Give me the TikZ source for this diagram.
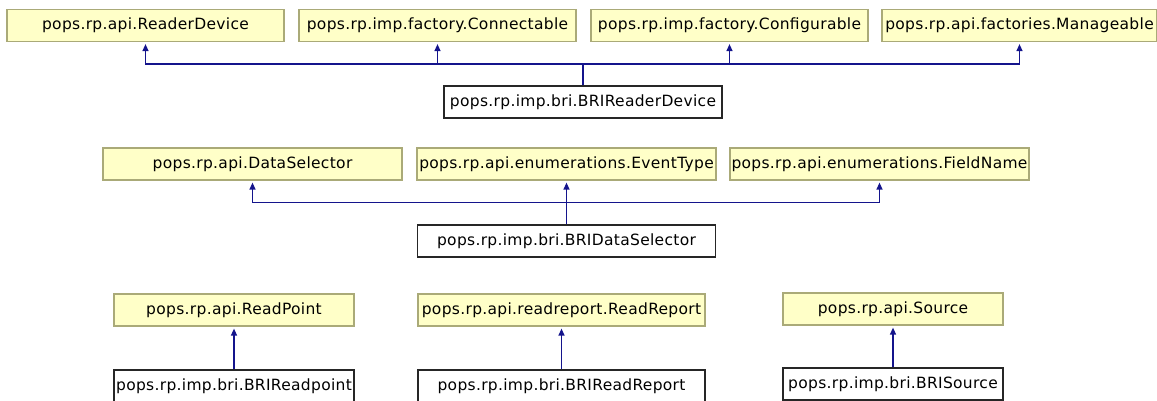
\documentclass[tikz,border=0pt]{standalone}
\usepackage{fontspec}
\setmainfont{DejaVu Sans}
\newfontfamily\umlfont[LetterSpace=2.0]{DejaVu Sans}
\usetikzlibrary{arrows.meta}

\definecolor{ifacefill}{RGB}{255,255,200}
\definecolor{ifaceline}{RGB}{170,170,120}
\definecolor{inhline}{RGB}{20,20,140}

\tikzset{
  iface/.style={draw=ifaceline, fill=ifacefill, line width=1.2pt, inner sep=0pt,
    minimum height=32pt, font=\umlfont\fontsize{15.5}{18}\selectfont},
  cls/.style={draw=black!85, fill=white, line width=1.4pt, inner sep=0pt,
    minimum height=32pt, font=\umlfont\fontsize{15.5}{18}\selectfont},
  inh/.style={draw=inhline, line width=1.3pt, shorten >=2pt,
    -{Triangle[length=7pt,width=6pt]}}
}

\begin{document}
\begin{tikzpicture}[x=1pt,y=-1pt]
\useasboundingbox (0,0) rectangle (1157,400);

\node[iface,minimum width=277pt] (rdev) at (145.5,25.5) {pops.rp.api.ReaderDevice};
\node[iface,minimum width=277pt] (conn) at (437.5,25.5) {pops.rp.imp.factory.Connectable};
\node[iface,minimum width=277pt] (conf) at (729.5,25.5) {pops.rp.imp.factory.Configurable};
\node[iface,minimum width=275pt] (mngb) at (1019.5,25.5) {pops.rp.api.factories.Manageable};
\node[cls,minimum width=278pt] (bridev) at (583,102) {pops.rp.imp.bri.BRIReaderDevice};
\coordinate (bus1) at (583,64);
\draw[inh] (bridev.north) -- (bus1) -| (rdev.south);
\draw[inh] (bridev.north) -- (bus1) -| (conn.south);
\draw[inh] (bridev.north) -- (bus1) -| (conf.south);
\draw[inh] (bridev.north) -- (bus1) -| (mngb.south);

\node[iface,minimum width=299pt] (dsel) at (252.5,164) {pops.rp.api.DataSelector};
\node[iface,minimum width=299pt] (evtype) at (566.5,164) {pops.rp.api.enumerations.EventType};
\node[iface,minimum width=299pt] (fname) at (879.5,164) {pops.rp.api.enumerations.FieldName};
\node[cls,minimum width=298pt] (bridsel) at (566.5,241) {pops.rp.imp.bri.BRIDataSelector};
\coordinate (bus2) at (566.5,202.5);
\draw[inh] (bridsel.north) -- (bus2) -| (dsel.south);
\draw[inh] (bridsel.north) -- (evtype.south);
\draw[inh] (bridsel.north) -- (bus2) -| (fname.south);

\node[iface,minimum width=240pt] (rpoint) at (234,310) {pops.rp.api.ReadPoint};
\node[iface,minimum width=287pt] (rreport) at (561.5,310) {pops.rp.api.readreport.ReadReport};
\node[iface,minimum width=220pt] (source) at (893,309) {pops.rp.api.Source};
\node[cls,minimum width=240pt] (brirpoint) at (234,386) {pops.rp.imp.bri.BRIReadpoint};
\node[cls,minimum width=287pt] (brirreport) at (561.5,386) {pops.rp.imp.bri.BRIReadReport};
\node[cls,minimum width=220pt] (brisource) at (893,384) {pops.rp.imp.bri.BRISource};
\draw[inh] (brirpoint) -- (rpoint);
\draw[inh] (brirreport) -- (rreport);
\draw[inh] (brisource) -- (source);
\end{tikzpicture}
\end{document}
